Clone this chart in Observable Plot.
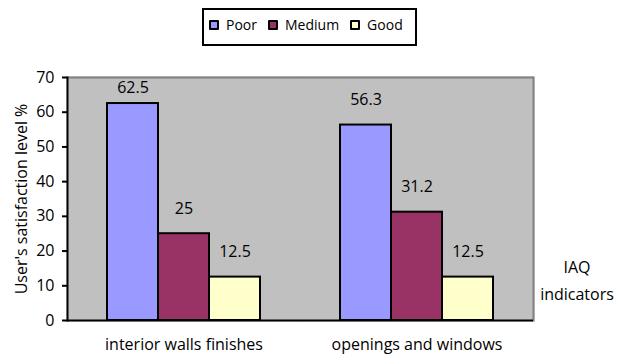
<!DOCTYPE html>
<html>
<head>
<meta charset="utf-8">
<script src="https://cdn.jsdelivr.net/npm/d3@7"></script>
<script src="https://cdn.jsdelivr.net/npm/@observablehq/plot@0.6"></script>
<style>
  body { margin: 0; background: #fff; }
  #wrap { position: relative; width: 617px; height: 356px; font-family: "Open Sans", sans-serif; color: #000; }
  #chart { position: absolute; left: 0; top: 0; }
  #legend { position: absolute; left: 202px; top: 8px; width: 215px; height: 38px; box-sizing: border-box;
            border: 2px solid #000; padding: 5px 0 0 5px; display: flex; align-items: flex-start; }
  .item { display: flex; align-items: center; height: 19px; font-size: 14px; line-height: 19px; margin-right: 11px; }
  .sw { width: 10px; height: 10px; box-sizing: border-box; border: 2px solid #000; border-radius: 1px; margin-right: 7px; }
  #axisnote { position: absolute; left: 537px; top: 254px; width: 80px; text-align: center; font-size: 16px; line-height: 27px; }
</style>
</head>
<body>
<div id="wrap">
  <div id="chart"></div>
  <div id="legend"></div>
  <div id="axisnote"></div>
</div>
<script>
const categories = ["interior walls finishes", "openings and windows"];
const seriesNames = ["Poor", "Medium", "Good"];
const poorValues = [62.5, 56.3];
const mediumValues = [25, 31.2];
const goodValues = [12.5, 12.5];
const seriesColors = ["#9999ff", "#993366", "#ffffcc"];
const yTicks = [0, 10, 20, 30, 40, 50, 60, 70];
const yLabel = "User's satisfaction level %";
const xNote = ["IAQ", "indicators"];

const valuesBySeries = [poorValues, mediumValues, goodValues];
const rows = [];
categories.forEach((c, i) => {
  seriesNames.forEach((s, j) => {
    rows.push({category: c, series: s, value: valuesBySeries[j][i]});
  });
});

const chart = Plot.plot({
  width: 617,
  height: 356,
  marginLeft: 67,
  marginRight: 84,
  marginTop: 77,
  marginBottom: 36,
  style: {fontFamily: "Open Sans, sans-serif", fontSize: "16px", color: "#000", background: "transparent"},
  fx: {domain: categories, padding: 0, label: null},
  x: {domain: seriesNames, paddingInner: 0, paddingOuter: 0.77, axis: null},
  y: {domain: [0, 70]},
  color: {domain: seriesNames, range: seriesColors},
  marks: [
    Plot.frame({fill: "#c0c0c0", stroke: "#c0c0c0", strokeWidth: 2}),
    Plot.ruleY([70], {stroke: "#808080", strokeWidth: 2}),
    Plot.frame({facetAnchor: "right", anchor: "right", stroke: "#808080", strokeWidth: 2}),
    Plot.barY(rows, {fx: "category", x: "series", y: "value", fill: "series", stroke: "#000", strokeWidth: 2}),
    Plot.text(rows.filter(d => d.value < 60), {fx: "category", x: "series", y: "value", text: d => String(d.value), dy: -25, fontSize: 16, fill: "#000"}),
    Plot.text(rows.filter(d => d.value >= 60), {fx: "category", x: "series", y: "value", text: d => String(d.value), dy: -16, fontSize: 16, fill: "#000"}),
    Plot.ruleY([0], {stroke: "#000", strokeWidth: 2}),
    Plot.frame({facetAnchor: "left", anchor: "left", stroke: "#000", strokeWidth: 2}),
    Plot.axisY({ticks: yTicks, tickSize: 5, tickPadding: 8, strokeWidth: 2, fontSize: 16,
                label: yLabel, labelAnchor: "center", labelArrow: "none", labelOffset: 52}),
    Plot.axisFx({anchor: "bottom", tickSize: 0, tickPadding: 18, fontSize: 16, label: null})
  ]
});
document.getElementById("chart").appendChild(chart);

const legend = document.getElementById("legend");
seriesNames.forEach((s, i) => {
  const item = document.createElement("div");
  item.className = "item";
  const sw = document.createElement("div");
  sw.className = "sw";
  sw.style.background = seriesColors[i];
  const t = document.createElement("span");
  t.textContent = s;
  item.appendChild(sw);
  item.appendChild(t);
  legend.appendChild(item);
});
const note = document.getElementById("axisnote");
xNote.forEach(line => {
  const d = document.createElement("div");
  d.textContent = line;
  note.appendChild(d);
});
</script>
</body>
</html>
